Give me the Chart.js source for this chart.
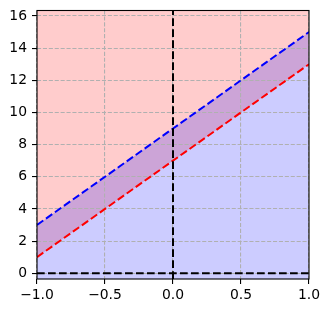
<!DOCTYPE html>
<html><head><meta charset="utf-8">
<script src="https://cdn.jsdelivr.net/npm/chart.js@4/dist/chart.umd.min.js"></script>
<style>html,body{margin:0;padding:0;background:#fff}#wrap{width:329px;height:313px;position:relative}</style>
</head><body><div id="wrap"><canvas id="c" width="329" height="313"></canvas></div>
<script>
const xEnds = [-1, 1];
const redLine = [1, 13];
const blueLine = [3, 15];
const xLimits = [-1, 1];
const yLimits = [-0.36, 16.34];
const xTicks = [-1, -0.5, 0, 0.5, 1];
const xTickLabels = ['\u22121.0', '\u22120.5', '0.0', '0.5', '1.0'];
const yTicks = [0, 2, 4, 6, 8, 10, 12, 14, 16];
const yTickLabels = ['0', '2', '4', '6', '8', '10', '12', '14', '16'];
const vLineX = 0;
const hLineY = 0;

const pts = (xs, ys) => xs.map((x, i) => ({x: x, y: ys[i]}));
const dash = [7.7, 3.3];

const frame = {
  id: 'frame',
  afterDraw(chart) {
    const a = chart.chartArea, ctx = chart.ctx;
    ctx.save();
    ctx.strokeStyle = '#000';
    ctx.lineWidth = 1.1;
    ctx.strokeRect(a.left, a.top, a.right - a.left, a.bottom - a.top);
    ctx.restore();
  }
};

new Chart(document.getElementById('c'), {
  type: 'line',
  data: {
    datasets: [
      {data: pts(xEnds, redLine), borderColor: '#ff0000', borderWidth: 2, borderDash: dash,
       fill: 'end', backgroundColor: 'rgba(255,0,0,0.2)', pointRadius: 0, order: 4},
      {data: pts(xEnds, blueLine), borderColor: '#0000ff', borderWidth: 2, borderDash: dash,
       fill: 'start', backgroundColor: 'rgba(0,0,255,0.2)', pointRadius: 0, order: 3},
      {data: pts([vLineX, vLineX], yLimits), borderColor: '#000', borderWidth: 2, borderDash: dash,
       fill: false, pointRadius: 0, order: 1},
      {data: pts(xLimits, [hLineY, hLineY]), borderColor: '#000', borderWidth: 2, borderDash: dash,
       fill: false, pointRadius: 0, order: 2}
    ]
  },
  options: {
    responsive: false,
    animation: false,
    layout: {padding: {left: 0, right: 20, top: 10.5, bottom: 0}},
    plugins: {legend: {display: false}, tooltip: {enabled: false}, filler: {drawTime: 'beforeDraw'}},
    scales: {
      x: {
        type: 'linear', min: xLimits[0], max: xLimits[1],
        afterBuildTicks: s => { s.ticks = xTicks.map(v => ({value: v})); },
        afterFit: s => { s.height = 34; s.paddingLeft = 0; s.paddingRight = 0; },
        ticks: {callback: (v) => xTickLabels[xTicks.indexOf(v)], color: '#000', padding: 3,
                maxRotation: 0, autoSkip: false, font: {family: 'DejaVu Sans', size: 13.9}},
        grid: {color: '#b0b0b0', lineWidth: 1.1, tickLength: 5, tickColor: '#000', tickWidth: 1.1},
        border: {display: false, dash: [4.1, 1.8]}
      },
      y: {
        type: 'linear', min: yLimits[0], max: yLimits[1],
        afterBuildTicks: s => { s.ticks = yTicks.map(v => ({value: v})); },
        afterFit: s => { s.width = 37; s.paddingTop = 0; s.paddingBottom = 0; },
        ticks: {callback: (v) => yTickLabels[yTicks.indexOf(v)], color: '#000', padding: 5,
                autoSkip: false, font: {family: 'DejaVu Sans', size: 13.9}},
        grid: {color: '#b0b0b0', lineWidth: 1.1, tickLength: 5, tickColor: '#000', tickWidth: 1.1},
        border: {display: false, dash: [4.1, 1.8]}
      }
    }
  },
  plugins: [frame]
});
</script></body></html>
